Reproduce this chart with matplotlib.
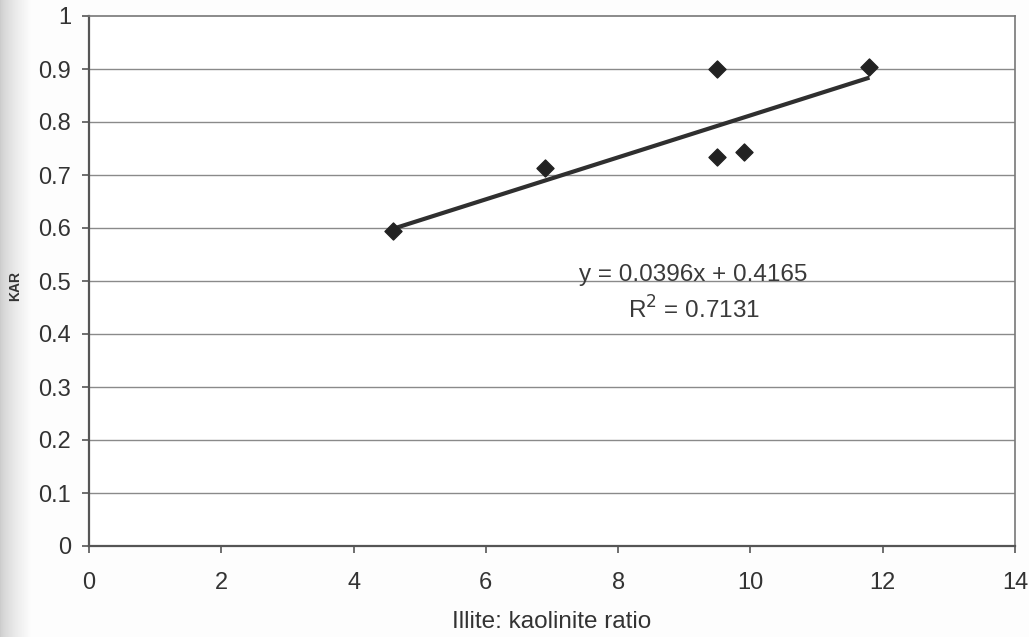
import numpy as np
import matplotlib
matplotlib.use("Agg")
import matplotlib.pyplot as plt

plt.rcParams['font.family'] = ['Liberation Sans', 'DejaVu Sans']

# illite:kaolinite ratio vs KAR
ik_ratio = [4.6, 6.9, 9.5, 9.5, 9.9, 11.8]
kar = [0.594, 0.713, 0.900, 0.734, 0.743, 0.903]

# linear trendline as reported
slope = 0.0396
intercept = 0.4165
r2 = 0.7131

xticks = [0, 2, 4, 6, 8, 10, 12, 14]
yticks = [0, 0.1, 0.2, 0.3, 0.4, 0.5, 0.6, 0.7, 0.8, 0.9, 1]
ytick_labels = ['0', '0.1', '0.2', '0.3', '0.4', '0.5', '0.6', '0.7', '0.8', '0.9', '1']

fig = plt.figure(figsize=(10.29, 6.37), dpi=100)
fig.patch.set_facecolor('#fdfdfd')

# faint page shadow along the left edge
bg = fig.add_axes([0, 0, 1, 1], zorder=-1)
grad = np.full((10, 1029), 0.99)
edge = np.linspace(0, 1, 32)
grad[:, :32] = 0.80 + 0.19 * edge ** 0.7
bg.imshow(grad, cmap='gray', vmin=0, vmax=1, aspect='auto', extent=[0, 1, 0, 1])
bg.set_axis_off()

ax = fig.add_axes([89 / 1029, 91 / 637, 926 / 1029, 530 / 637])
ax.set_facecolor('white')

for yv in yticks[1:-1]:
    ax.axhline(yv, color='#8a8a8a', lw=1.0, zorder=1)

ax.scatter(ik_ratio, kar, marker='D', s=75, color='#222222', zorder=3)

xfit = np.array([min(ik_ratio), max(ik_ratio)])
ax.plot(xfit, slope * xfit + intercept, color='#2f2f2f', lw=3, zorder=2,
        solid_capstyle='butt')

ax.text(9.14, 0.511, f'y = {slope}x + {intercept}', fontsize=17.5, color='#3a3a3a',
        ha='center', va='center')
ax.text(9.14, 0.445, f'R$^2$ = {r2}', fontsize=17.5, color='#3a3a3a',
        ha='center', va='center')

ax.set_xlim(0, 14)
ax.set_ylim(0, 1)
ax.set_xticks(xticks)
ax.set_yticks(yticks)
ax.set_yticklabels(ytick_labels)

for side in ['left', 'bottom']:
    ax.spines[side].set_color('#555555')
    ax.spines[side].set_linewidth(1.6)
for side in ['top', 'right']:
    ax.spines[side].set_color('#777777')
    ax.spines[side].set_linewidth(1.2)

ax.tick_params(axis='both', direction='out', length=5, width=1.2, color='#555555',
               labelcolor='#333333')
ax.tick_params(axis='y', labelsize=17, pad=8)
ax.tick_params(axis='x', labelsize=17, pad=14)

ax.set_xlabel('Illite: kaolinite ratio', fontsize=17.5, color='#333333', labelpad=12)
ax.set_ylabel('KAR', fontsize=10, fontweight='bold', color='#333333')
ax.yaxis.set_label_coords(-0.072, 0.49)

fig.savefig('out.png', dpi=100, facecolor=fig.get_facecolor())
